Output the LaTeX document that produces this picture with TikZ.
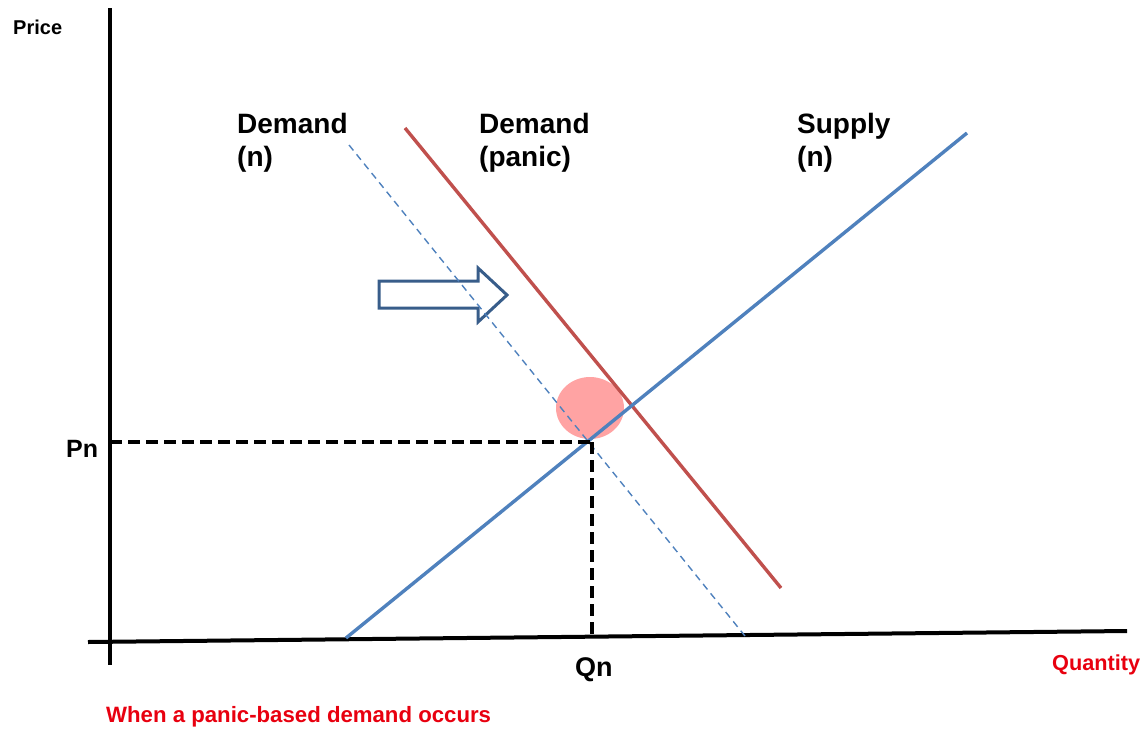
\documentclass[tikz,border=0pt]{standalone}
\usepackage{fontspec}
\setmainfont{Liberation Sans}
\definecolor{supblue}{HTML}{4F81BD}
\definecolor{demred}{HTML}{C0504D}
\definecolor{arrblue}{HTML}{385D8A}
\definecolor{pinkc}{HTML}{FFA3A3}
\definecolor{labred}{HTML}{E8000F}
\tikzset{
  axisline/.style={line width=4pt, black},
  guide/.style={line width=3.5pt, black, dash pattern=on 12pt off 6pt},
  supplyline/.style={line width=3.4pt, supblue},
  panicline/.style={line width=3.4pt, demred},
  normline/.style={line width=1.4pt, supblue, dash pattern=on 7pt off 5pt},
  lbl/.style={anchor=base west, inner sep=0pt, font=\bfseries},
}
\begin{document}
\begin{tikzpicture}[x=1pt, y=-1pt]
\useasboundingbox (0,0) rectangle (1145,731);
% coordinates
\coordinate (ytop) at (110,8);
\coordinate (ybot) at (110,665);
\coordinate (xl) at (88,642);
\coordinate (xr) at (1127,631);
\coordinate (s1) at (346,638);
\coordinate (s2) at (967,133);
\coordinate (p1) at (405,128);
\coordinate (p2) at (781,588);
\coordinate (n1) at (349,145);
\coordinate (n2) at (745,636);
\coordinate (pn) at (110,442);
\coordinate (eq) at (592,442);
\coordinate (qn) at (592,638);
% highlight
\fill[pinkc] (590,408) ellipse [x radius=34, y radius=31];
% shift arrow
\draw[arrblue, line width=3pt, line join=miter, fill=white]
  (379,281) -- (478,281) -- (478,268) -- (507,295) -- (478,322) -- (478,308) -- (379,308) -- cycle;
% axes
\draw[axisline] (ytop) -- (ybot);
\draw[axisline] (xl) -- (xr);
% curves
\draw[normline] (n1) -- (n2);
\draw[panicline] (p1) -- (p2);
\draw[supplyline] (s1) -- (s2);
% guides
\draw[guide] (pn) -- (eq);
\draw[guide] (eq) -- (qn);
% labels
\node[lbl, font=\bfseries\fontsize{20}{24}\selectfont] (price) at (13,34) {Price};
\node[lbl, font=\bfseries\fontsize{28}{32}\selectfont] (dn1) at (237,133) {Demand};
\node[lbl, font=\bfseries\fontsize{28}{32}\selectfont] (dn2) at (237,166) {(n)};
\node[lbl, font=\bfseries\fontsize{28}{32}\selectfont] (dp1) at (479,133) {Demand};
\node[lbl, font=\bfseries\fontsize{28}{32}\selectfont] (dp2) at (479,166) {(panic)};
\node[lbl, font=\bfseries\fontsize{28}{32}\selectfont] (sn1) at (797,133) {Supply};
\node[lbl, font=\bfseries\fontsize{28}{32}\selectfont] (sn2) at (797,166) {(n)};
\node[lbl, font=\bfseries\fontsize{25}{30}\selectfont] (pnl) at (66,457) {Pn};
\node[lbl, font=\bfseries\fontsize{27}{30}\selectfont] (qnl) at (575,676) {Qn};
\node[lbl, labred, font=\bfseries\fontsize{21.7}{25}\selectfont] (qty) at (1052,670) {Quantity};
\node[lbl, labred, font=\bfseries\fontsize{22.2}{26}\selectfont] (cap) at (106,722) {When a panic-based demand occurs};
\end{tikzpicture}
\end{document}
